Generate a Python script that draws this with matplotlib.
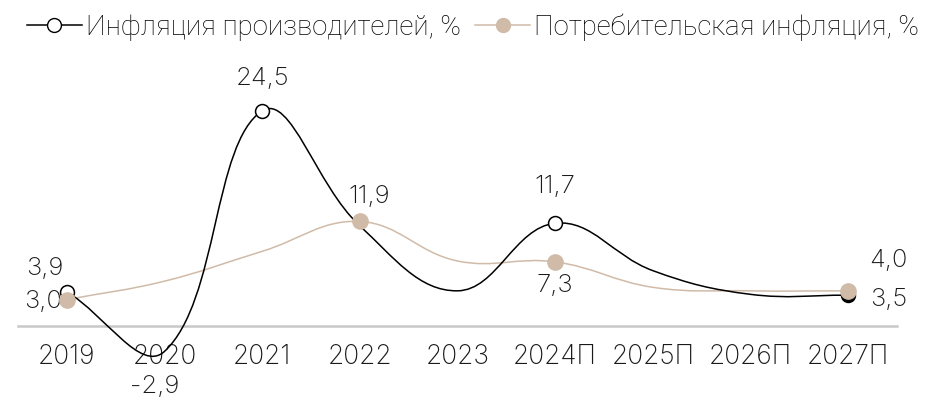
import numpy as np
import matplotlib
matplotlib.use("Agg")
import matplotlib.pyplot as plt
from matplotlib.path import Path
from matplotlib.patches import PathPatch
from matplotlib.lines import Line2D

years = ["2019", "2020", "2021", "2022", "2023", "2024П", "2025П", "2026П", "2027П"]
producer = [3.9, -2.9, 24.5, 11.4, 4.0, 11.7, 6.3, 3.6, 3.5]
consumer = [3.0, 5.1, 8.5, 11.9, 7.4, 7.3, 4.4, 4.0, 4.0]
producer_marked = [0, 2, 5, 8]
consumer_marked = [0, 3, 5, 8]
producer_labels = {0: "3,9", 1: "-2,9", 2: "24,5", 5: "11,7", 8: "3,5"}
consumer_labels = {0: "3,0", 3: "11,9", 5: "7,3", 8: "4,0"}

TAN = "#d0bba8"
FONT = ["Inter", "DejaVu Sans"]

W, H = 925, 401
fig = plt.figure(figsize=(W / 100, H / 100), dpi=100)
ax = fig.add_axes([18 / W, 1 - 390 / H, 879 / W, 330 / H])
ax.set_xlim(-0.5, 8.5)
ax.set_ylim(-7.3, 30.3)

# pixel scale, used only for the spline distances (chart.js style)
sx = 879 / 9.0
sy = 330 / 37.6


def spline_path(xs, ys, t=0.4):
    n = len(xs)
    px = np.array(xs, float) * sx
    py = np.array(ys, float) * sy
    cp_prev, cp_next = [], []
    for i in range(n):
        a = max(i - 1, 0)
        b = min(i + 1, n - 1)
        d01 = np.hypot(px[i] - px[a], py[i] - py[a])
        d12 = np.hypot(px[b] - px[i], py[b] - py[i])
        s01 = d01 / (d01 + d12) if d01 + d12 else 0
        s12 = d12 / (d01 + d12) if d01 + d12 else 0
        fa, fb = t * s01, t * s12
        dx, dy = px[b] - px[a], py[b] - py[a]
        cp_prev.append((px[i] - fa * dx, py[i] - fa * dy))
        cp_next.append((px[i] + fb * dx, py[i] + fb * dy))
    verts = [(px[0], py[0])]
    codes = [Path.MOVETO]
    for i in range(n - 1):
        verts += [cp_next[i], cp_prev[i + 1], (px[i + 1], py[i + 1])]
        codes += [Path.CURVE4] * 3
    verts = [(x / sx, y / sy) for x, y in verts]
    return Path(verts, codes)


x = np.arange(len(years))

ax.add_patch(PathPatch(spline_path(x, producer), facecolor="none",
                       edgecolor="black", lw=1.1, clip_on=False, zorder=3))
ax.add_patch(PathPatch(spline_path(x, consumer), facecolor="none",
                       edgecolor=TAN, lw=1.1, clip_on=False, zorder=2))

for i in producer_marked:
    fc = "black" if i == len(years) - 1 else "white"
    ax.plot(x[i], producer[i], "o", ms=10, mfc=fc, mec="black", mew=1.1,
            zorder=4, clip_on=False)
for i in consumer_marked:
    ax.plot(x[i], consumer[i], "o", ms=11, mfc=TAN, mec=TAN, zorder=5,
            clip_on=False)

# value labels (offsets in points)
offs_p = {0: (-16, 16.5), 1: (-7, -25), 2: (0, 23), 5: (0, 26.5), 8: (29, -3)}
offs_c = {0: (-17, -1.5), 3: (6.5, 18), 5: (0, -17), 8: (29, 21.5)}
for i, s in producer_labels.items():
    ax.annotate(s, (x[i], producer[i]), xytext=offs_p[i], textcoords="offset points",
                ha="center", va="center", fontsize=18.5, family=FONT,
                fontweight="light", color="#1a1a1a")
for i, s in consumer_labels.items():
    ax.annotate(s, (x[i], consumer[i]), xytext=offs_c[i], textcoords="offset points",
                ha="center", va="center", fontsize=18.5, family=FONT,
                fontweight="light", color="#1a1a1a")

for s in ["top", "right", "left"]:
    ax.spines[s].set_visible(False)
ax.spines["bottom"].set_position(("data", 0))
ax.spines["bottom"].set_color("#c8c8c8")
ax.spines["bottom"].set_linewidth(1.8)
ax.set_yticks([])
ax.set_xticks(x)
ax.set_xticklabels(years, fontsize=19, family=FONT, fontweight="light", color="#1a1a1a")
ax.tick_params(axis="x", length=0, pad=13)
ax.patch.set_alpha(0)

handles = [
    Line2D([], [], color="black", lw=1.1, marker="o", ms=10, mfc="white", mec="black"),
    Line2D([], [], color=TAN, lw=1.1, marker="o", ms=10, mfc=TAN, mec=TAN),
]
fig.legend(handles, ["Инфляция производителей, %", "Потребительская инфляция, %"],
           loc="center", bbox_to_anchor=(473 / W, 1 - 27 / H), ncol=2, frameon=False,
           prop={"family": ["Roboto", "DejaVu Sans"], "size": 19.9, "weight": "light"},
           handlelength=2.0, handletextpad=0.15, columnspacing=0.5)

fig.savefig("out.png", dpi=100)
